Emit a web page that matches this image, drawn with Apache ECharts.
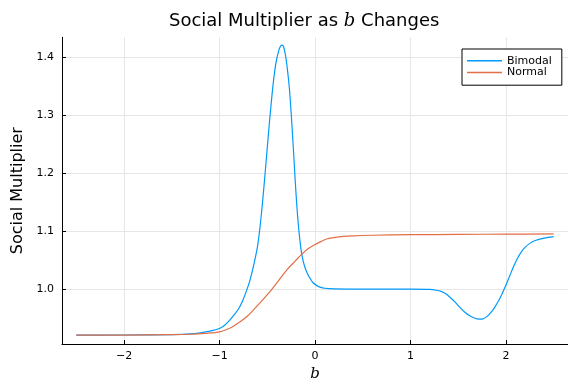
<!DOCTYPE html>
<html>
<head>
<meta charset="utf-8">
<script src="https://cdn.jsdelivr.net/npm/echarts@6/dist/echarts.min.js"></script>
<style>
html,body{margin:0;padding:0;background:#fff;}
#c{width:568px;height:387px;}
</style>
</head>
<body>
<div id="c"></div>
<script>
// ---- data ----
const bimodalX = [-2.5,-2.0,-1.5,-1.3,-1.2,-1.1,-1.0,-0.95,-0.9,-0.85,-0.8,-0.76,-0.72,-0.68,-0.64,-0.60,-0.56,-0.52,-0.48,-0.44,-0.41,-0.38,-0.36,-0.345,-0.33,-0.31,-0.29,-0.27,-0.25,-0.23,-0.21,-0.19,-0.17,-0.15,-0.13,-0.11,-0.08,-0.05,-0.02,0.02,0.06,0.1,0.2,0.5,1.0,1.2,1.27,1.32,1.37,1.42,1.47,1.52,1.57,1.62,1.67,1.72,1.76,1.81,1.85,1.88,1.92,1.96,2.0,2.04,2.08,2.12,2.16,2.2,2.25,2.3,2.4,2.5];
const bimodalY = [0.9205,0.9207,0.9213,0.9225,0.9245,0.9275,0.932,0.937,0.945,0.955,0.966,0.979,0.996,1.016,1.043,1.076,1.132,1.205,1.283,1.352,1.390,1.412,1.420,1.4215,1.419,1.405,1.381,1.350,1.305,1.252,1.195,1.143,1.103,1.073,1.053,1.040,1.027,1.018,1.011,1.006,1.003,1.0015,1.0005,1.0,1.0,0.9995,0.998,0.996,0.992,0.985,0.977,0.968,0.960,0.954,0.950,0.948,0.9485,0.954,0.961,0.968,0.979,0.992,1.007,1.023,1.039,1.053,1.064,1.072,1.079,1.0835,1.088,1.0905];
const normalX = [-2.5,-2.0,-1.5,-1.3,-1.15,-1.0,-0.9,-0.84,-0.78,-0.71,-0.64,-0.55,-0.47,-0.38,-0.29,-0.21,-0.14,-0.07,0.0,0.06,0.12,0.2,0.3,0.4,0.6,1.0,1.5,2.0,2.5];
const normalY = [0.9205,0.9206,0.9212,0.922,0.9235,0.926,0.932,0.9375,0.944,0.953,0.965,0.981,0.996,1.015,1.034,1.048,1.060,1.070,1.077,1.082,1.0865,1.089,1.091,1.092,1.093,1.094,1.0945,1.095,1.0953];
const xTicks = [-2,-1,0,1,2];
const yTicks = [1.0,1.1,1.2,1.3,1.4];
const seriesNames = ['Bimodal','Normal'];

const toPairs = (xs, ys) => xs.map((x, i) => [x, ys[i]]);

const chart = echarts.init(document.getElementById('c'), null, {renderer:'canvas'});
const font = 'DejaVu Sans';
chart.setOption({
  animation:false,
  backgroundColor:'#fff',
  title:{
    text:'Social Multiplier as {i|b} Changes',
    left:164, top:7,
    textStyle:{fontFamily:font, fontSize:18, fontWeight:'normal', color:'#000',
      rich:{i:{fontFamily:'DejaVu Serif', fontStyle:'italic', fontSize:18, color:'#000'}}}
  },
  legend:{
    orient:'vertical', left:462, top:49,
    padding:[6,10,7,5],
    itemWidth:35, itemHeight:1.5, itemGap:0,
    icon:'rect',
    borderColor:'#000', borderWidth:1, borderRadius:0,
    backgroundColor:'#fff',
    textStyle:{fontFamily:font, fontSize:11, color:'#000', lineHeight:11.6},
    data:seriesNames
  },
  grid:{left:62, top:37.3, width:512.4, height:312, containLabel:false},
  xAxis:{
    type:'value', min:-2.65, max:2.65,
    name:'{i|b}', nameLocation:'middle', nameGap:21,
    nameTextStyle:{rich:{i:{fontFamily:'DejaVu Serif', fontStyle:'italic', fontSize:15, color:'#000'}}},
    axisLine:{show:true, onZero:false, lineStyle:{color:'#000', width:1}},
    axisTick:{show:true, inside:true, length:4, customValues:xTicks, lineStyle:{color:'#000'}},
    axisLabel:{customValues:xTicks, margin:7, fontFamily:font, fontSize:11, color:'#000',
      formatter:v => String(v).replace('-', '\u2212')},
    splitLine:{show:true, lineStyle:{color:'#e6e6e6', width:1}}
  },
  yAxis:{
    type:'value', min:0.905, max:1.435,
    name:'Social Multiplier', nameLocation:'middle', nameGap:32,
    nameTextStyle:{fontFamily:font, fontSize:16, color:'#000'},
    axisLine:{show:true, onZero:false, lineStyle:{color:'#000', width:1}},
    axisTick:{show:true, inside:true, length:4, customValues:yTicks, lineStyle:{color:'#000'}},
    axisLabel:{customValues:yTicks, margin:8, fontFamily:font, fontSize:11, color:'#000',
      formatter:v => v.toFixed(1)},
    splitLine:{show:true, lineStyle:{color:'#e6e6e6', width:1}}
  },
  series:[
    {name:seriesNames[0], type:'line', data:toPairs(bimodalX, bimodalY), showSymbol:false, symbol:'none',
     smooth:0.3, color:'#009AFA', lineStyle:{width:1.2, color:'#009AFA'}, z:3},
    {name:seriesNames[1], type:'line', data:toPairs(normalX, normalY), showSymbol:false, symbol:'none',
     smooth:0.3, color:'#E26F46', lineStyle:{width:1.2, color:'#E26F46'}, z:4}
  ]
});
</script>
</body>
</html>
